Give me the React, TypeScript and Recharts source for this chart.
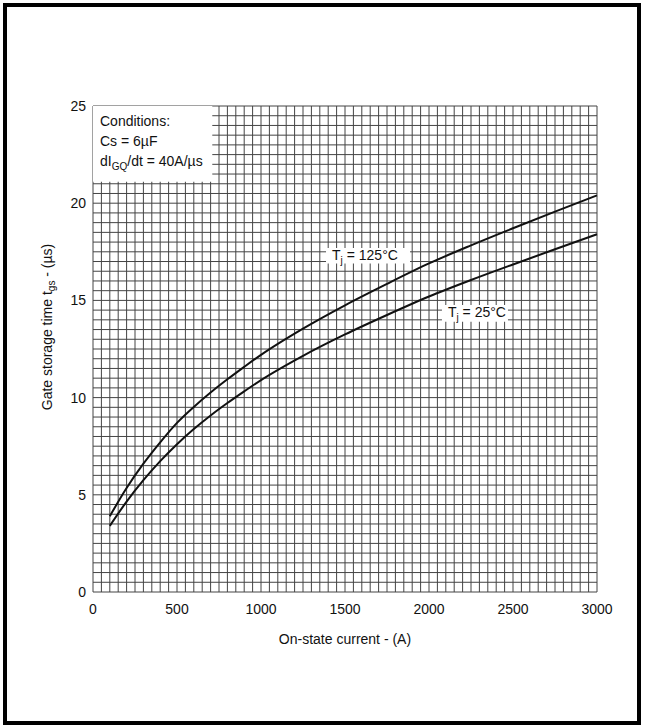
import React from 'react';
import { LineChart, Line, XAxis, YAxis, CartesianGrid, ReferenceArea } from 'recharts';

// on-state current (A)
const currents = [100, 200, 300, 400, 500, 600, 700, 800, 900, 1000, 1250, 1500, 1750, 2000, 2250, 2500, 2750, 3000];
// gate storage time (us)
const tj125 = [3.9, 5.35, 6.6, 7.7, 8.7, 9.52, 10.26, 10.94, 11.58, 12.2, 13.55, 14.75, 15.85, 16.9, 17.83, 18.71, 19.57, 20.4];
const tj25 = [3.4, 4.65, 5.75, 6.73, 7.6, 8.38, 9.08, 9.72, 10.32, 10.9, 12.15, 13.25, 14.25, 15.2, 16.05, 16.85, 17.63, 18.4];

const xTicks = [0, 500, 1000, 1500, 2000, 2500, 3000];
const yTicks = [0, 5, 10, 15, 20, 25];

const X_MAX = 3000;
const Y_MAX = 25;
const FONT = '"Liberation Sans", Arial, sans-serif';

// grid every 50 A and every 0.5 us
const vGrid: number[] = [];
for (let v = 0; v <= X_MAX; v += 50) vGrid.push(v);
const hGrid: number[] = [];
for (let v = 0; v <= Y_MAX; v += 0.5) hGrid.push(v);

const data = currents.map((c, i) => ({ current: c, hot: tj125[i], cold: tj25[i] }));

const vCoords = ({ xAxis, offset }: any) =>
  vGrid.map((v) =>
    xAxis && typeof xAxis.scale === 'function' ? xAxis.scale(v) : offset.left + (offset.width * v) / X_MAX
  );
const hCoords = ({ yAxis, offset }: any) =>
  hGrid.map((v) =>
    yAxis && typeof yAxis.scale === 'function' ? yAxis.scale(v) : offset.top + offset.height * (1 - v / Y_MAX)
  );

const TjLabel = ({ viewBox, temp }: any) => {
  if (!viewBox) return null;
  return (
    <text x={viewBox.x + 6} y={viewBox.y + 12} fontSize={14} fontFamily={FONT} fill="#111">
      T<tspan dy={4} fontSize={10}>j</tspan>
      <tspan dy={-4}> = {temp}°C</tspan>
    </text>
  );
};

const ConditionsLabel = ({ viewBox }: any) => {
  if (!viewBox) return null;
  const x = viewBox.x + 7;
  const y = viewBox.y;
  return (
    <text fontSize={14} fontFamily={FONT} fill="#111">
      <tspan x={x} y={y + 20}>Conditions:</tspan>
      <tspan x={x} y={y + 40}>Cs = 6µF</tspan>
      <tspan x={x} y={y + 60}>dI</tspan>
      <tspan dy={4} fontSize={10}>GQ</tspan>
      <tspan dy={-4}>/dt = 40A/µs</tspan>
    </text>
  );
};

const YTitle = ({ viewBox }: any) => {
  if (!viewBox) return null;
  const cx = viewBox.x + 14;
  const cy = viewBox.y + viewBox.height / 2 - 22;
  return (
    <text
      x={cx}
      y={cy}
      transform={`rotate(-90 ${cx} ${cy})`}
      textAnchor="middle"
      dominantBaseline="central"
      fontSize={14}
      fontFamily={FONT}
      fill="#111"
    >
      Gate storage time t<tspan dy={4} fontSize={10}>gs</tspan>
      <tspan dy={-4}> - (µs)</tspan>
    </text>
  );
};

export default function App() {
  return (
    <div style={{ position: 'fixed', left: 0, top: 0, width: 645, height: 725, background: '#fff' }}>
      <div
        style={{
          position: 'absolute',
          left: 3,
          top: 3,
          width: 638,
          height: 722,
          border: '4px solid #000',
          boxSizing: 'border-box',
        }}
      />
      <div style={{ position: 'absolute', left: 0, top: 0 }}>
        <LineChart width={645} height={725} data={data} margin={{ top: 106, right: 48, bottom: 103, left: 33 }}>
          <CartesianGrid
            stroke="#444"
            strokeWidth={1}
            verticalCoordinatesGenerator={vCoords}
            horizontalCoordinatesGenerator={hCoords}
          />
          <XAxis
            dataKey="current"
            type="number"
            domain={[0, X_MAX]}
            ticks={xTicks}
            tickSize={0}
            tickMargin={12}
            height={30}
            axisLine={false}
            tick={{ fontSize: 14, fontFamily: FONT, fill: '#111' }}
            label={{
              value: 'On-state current - (A)',
              position: 'insideBottom',
              offset: -22,
              fontSize: 14,
              fontFamily: FONT,
              fill: '#111',
            }}
          />
          <YAxis
            type="number"
            domain={[0, Y_MAX]}
            ticks={yTicks}
            tickSize={0}
            tickMargin={7}
            width={60}
            axisLine={false}
            tick={{ fontSize: 14, fontFamily: FONT, fill: '#111' }}
            label={<YTitle />}
          />
          <ReferenceArea
            x1={0}
            x2={710}
            y1={21.1}
            y2={25}
            fill="#fff"
            fillOpacity={1}
            stroke="none"
            label={<ConditionsLabel />}
          />
          <ReferenceArea
            x1={1387}
            x2={1887}
            y1={16.9}
            y2={17.7}
            fill="#fff"
            fillOpacity={1}
            stroke="none"
            label={<TjLabel temp={125} />}
          />
          <ReferenceArea
            x1={2077}
            x2={2470}
            y1={13.9}
            y2={14.76}
            fill="#fff"
            fillOpacity={1}
            stroke="none"
            label={<TjLabel temp={25} />}
          />
          <Line
            type="monotone"
            dataKey="hot"
            stroke="#111"
            strokeWidth={2}
            dot={false}
            isAnimationActive={false}
          />
          <Line
            type="monotone"
            dataKey="cold"
            stroke="#111"
            strokeWidth={2}
            dot={false}
            isAnimationActive={false}
          />
        </LineChart>
      </div>
    </div>
  );
}
